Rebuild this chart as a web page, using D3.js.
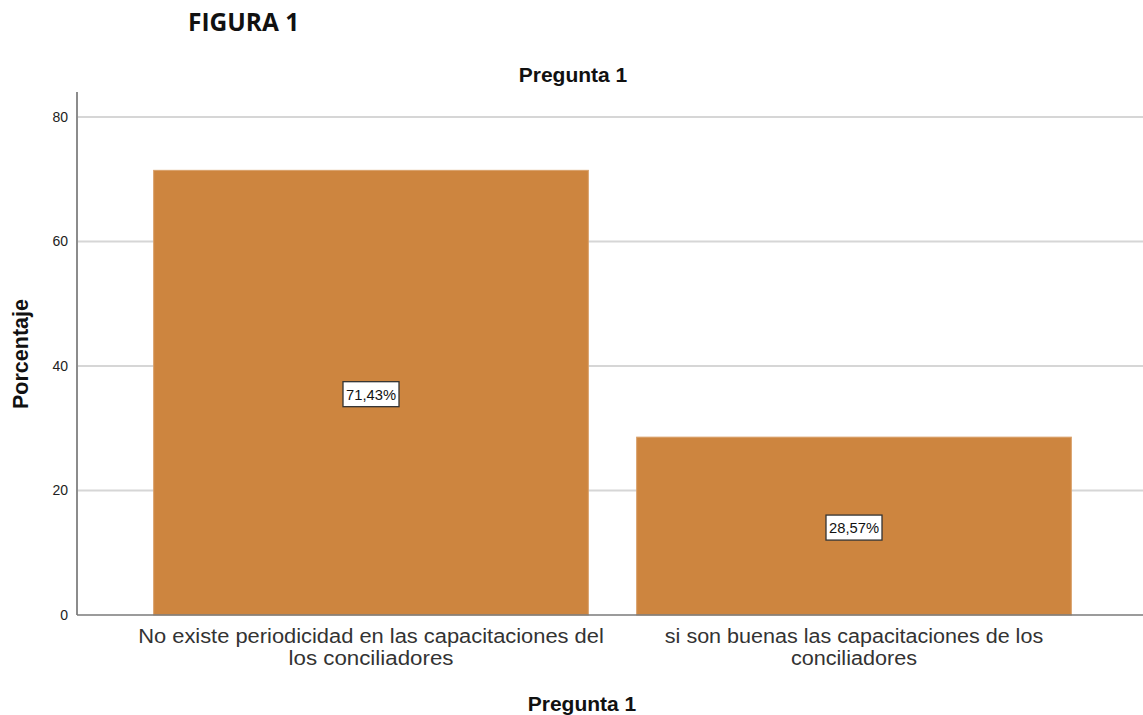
<!DOCTYPE html>
<html>
<head>
<meta charset="utf-8">
<script src="https://cdn.jsdelivr.net/npm/d3@7"></script>
<style>
  body { margin: 0; background: #fff; }
  svg { display: block; font-family: Arial, "Liberation Sans", sans-serif; }
</style>
</head>
<body>
<div id="chart"></div>
<script>
// data
const categories = [
    ["No existe periodicidad en las capacitaciones del", "los conciliadores"],
    ["si son buenas las capacitaciones de los", "conciliadores"]
];
const values = [71.43, 28.57];
const valueLabels = ["71,43%", "28,57%"];
const yTicks = [0, 20, 40, 60, 80];

const width = 1143, height = 715;
const x0 = 77, x1 = 1143, yTop = 92, yBase = 615;

const svg = d3.select("#chart").append("svg")
    .attr("width", width)
    .attr("height", height);

const x = d3.scaleBand()
    .domain(d3.range(categories.length))
    .range([129.5, 1095.5])
    .paddingInner(0.1)
    .paddingOuter(0.05);

const y = d3.scaleLinear()
    .domain([0, 80])
    .range([yBase, 117]);

// figure heading
svg.append("text")
    .attr("x", 188).attr("y", 31)
    .attr("font-family", "'Open Sans', sans-serif")
    .attr("font-weight", "bold")
    .attr("font-size", 24.5)
    .attr("fill", "#111")
    .text("FIGURA 1");

// grid lines
svg.append("g")
    .selectAll("line")
    .data(yTicks.filter(d => d > 0))
    .join("line")
    .attr("x1", x0).attr("x2", x1)
    .attr("y1", d => y(d)).attr("y2", d => y(d))
    .attr("stroke", "#d6d6d6")
    .attr("stroke-width", 2);

// y axis
const yAxis = svg.append("g")
    .attr("transform", `translate(${x0},0)`)
    .call(d3.axisLeft(y).tickValues(yTicks).tickSize(0).tickPadding(9));
yAxis.select(".domain").remove();
yAxis.selectAll("text")
    .attr("font-size", 14)
    .attr("font-family", "Arial, 'Liberation Sans', sans-serif")
    .attr("fill", "#222");

svg.append("line")
    .attr("x1", x0).attr("x2", x0)
    .attr("y1", yTop).attr("y2", yBase)
    .attr("stroke", "#8c8c8c")
    .attr("stroke-width", 2);

// bars
svg.append("g")
    .selectAll("rect")
    .data(values)
    .join("rect")
    .attr("x", (d, i) => x(i))
    .attr("y", d => y(d))
    .attr("width", x.bandwidth())
    .attr("height", d => y(0) - y(d))
    .attr("fill", "#cd853f")
    .attr("stroke", "#d9a06a")
    .attr("stroke-width", 1);

// baseline
svg.append("line")
    .attr("x1", x0).attr("x2", x1)
    .attr("y1", yBase).attr("y2", yBase)
    .attr("stroke", "#7a7a7a")
    .attr("stroke-width", 1.5);

// value labels
const lab = svg.append("g")
    .selectAll("g")
    .data(values)
    .join("g")
    .attr("transform", (d, i) => `translate(${x(i) + x.bandwidth() / 2},${(y(d) + y(0)) / 2 + 2})`);

lab.append("rect")
    .attr("x", -28).attr("y", -13)
    .attr("width", 56).attr("height", 25)
    .attr("fill", "#fff")
    .attr("stroke", "#333")
    .attr("stroke-width", 1.3);

lab.append("text")
    .attr("text-anchor", "middle")
    .attr("dy", "0.35em")
    .attr("font-size", 14.5)
    .attr("textLength", 50)
    .attr("lengthAdjust", "spacingAndGlyphs")
    .attr("x", 0)
    .attr("fill", "#111")
    .text((d, i) => valueLabels[i]);

// category labels
const cat = svg.append("g")
    .selectAll("text")
    .data(categories)
    .join("text")
    .attr("text-anchor", "middle")
    .attr("font-size", 20)
    .attr("fill", "#333");
cat.selectAll("tspan")
    .data((d, i) => d.map(t => ({ t, i })))
    .join("tspan")
    .attr("x", d => x(d.i) + x.bandwidth() / 2)
    .attr("y", (d, j) => 643 + j * 22)
    .attr("textLength", d => d.t.length * 9.7)
    .attr("lengthAdjust", "spacingAndGlyphs")
    .text(d => d.t);

// titles
svg.append("text")
    .attr("x", 573).attr("y", 82)
    .attr("text-anchor", "middle")
    .attr("font-weight", "bold")
    .attr("font-size", 21)
    .attr("fill", "#111")
    .text("Pregunta 1");

svg.append("text")
    .attr("x", 582).attr("y", 711)
    .attr("text-anchor", "middle")
    .attr("font-weight", "bold")
    .attr("font-size", 21)
    .attr("fill", "#111")
    .text("Pregunta 1");

svg.append("text")
    .attr("transform", "translate(28,354) rotate(-90)")
    .attr("text-anchor", "middle")
    .attr("font-weight", "bold")
    .attr("font-size", 21.5)
    .attr("fill", "#111")
    .text("Porcentaje");
</script>
</body>
</html>
